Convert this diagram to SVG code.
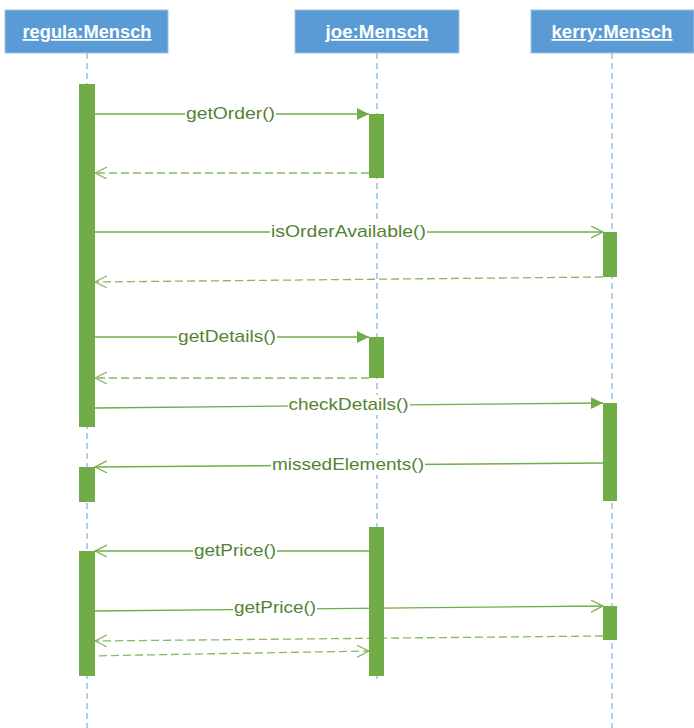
<svg xmlns="http://www.w3.org/2000/svg" width="694" height="728" viewBox="0 0 694 728">
<defs>
<style>
.head{fill:#5B9BD5;stroke:#9DC3E6;stroke-width:1}
.htxt{font-family:"Liberation Sans",Arial,sans-serif;font-weight:bold;font-size:18px;fill:#ffffff;text-decoration:underline;text-anchor:middle}
.life{stroke:#5B9BD5;stroke-width:1.2;stroke-dasharray:6,4;fill:none;opacity:0.8}
.act{fill:#70AD47}
.msg{stroke:#70AD47;stroke-width:1.3;fill:none}
.ret{stroke:#70AD47;stroke-width:1.3;fill:none;stroke-dasharray:8,4;opacity:0.85}
.lbl{font-family:"Liberation Sans",Arial,sans-serif;font-size:17px;fill:#548235;text-anchor:middle;dominant-baseline:central}
.bg{fill:#ffffff}
</style>
<marker id="filled" markerUnits="userSpaceOnUse" markerWidth="14" markerHeight="14" refX="12" refY="6" orient="auto">
<path d="M0,0 L12,6 L0,12 z" fill="#70AD47"/>
</marker>
<marker id="open" markerUnits="userSpaceOnUse" markerWidth="14" markerHeight="14" refX="12" refY="6" orient="auto">
<path d="M0,0 L12,6 L0,12" fill="none" stroke="#70AD47" stroke-width="1.2"/>
</marker>
</defs>
<rect width="694" height="728" fill="#ffffff"/>

<g id="lifelines">
<line class="life" x1="87" y1="53" x2="87" y2="728"/>
<line class="life" x1="377" y1="53" x2="377" y2="682"/>
<line class="life" x1="612" y1="53" x2="612" y2="728"/>
</g>

<g id="regula">
<rect class="head" x="5" y="10" width="163" height="43"/>
<text class="htxt" x="87" y="38" textLength="129" lengthAdjust="spacingAndGlyphs">regula:Mensch</text>
<rect class="act" x="79" y="84" width="16" height="343"/>
<rect class="act" x="79" y="467" width="16" height="35"/>
<rect class="act" x="79" y="551" width="16" height="125"/>
</g>

<g id="joe">
<rect class="head" x="295" y="10" width="164" height="43"/>
<text class="htxt" x="377" y="38" textLength="103" lengthAdjust="spacingAndGlyphs">joe:Mensch</text>
<rect class="act" x="369" y="114" width="15" height="64"/>
<rect class="act" x="369" y="337" width="15" height="41"/>
<rect class="act" x="369" y="527" width="15" height="149"/>
</g>

<g id="kerry">
<rect class="head" x="531" y="10" width="163" height="43"/>
<text class="htxt" x="612" y="38" textLength="121" lengthAdjust="spacingAndGlyphs">kerry:Mensch</text>
<rect class="act" x="603" y="232" width="14" height="45"/>
<rect class="act" x="603" y="403" width="14" height="98"/>
<rect class="act" x="603" y="606" width="14" height="34"/>
</g>

<g id="connectors">
<line class="msg" x1="95" y1="114" x2="369" y2="114" marker-end="url(#filled)"/>
<line class="ret" x1="369" y1="173" x2="95" y2="173" marker-end="url(#open)"/>
<line class="msg" x1="95" y1="232" x2="603" y2="232" marker-end="url(#open)"/>
<line class="ret" x1="603" y1="277" x2="95" y2="282" marker-end="url(#open)"/>
<line class="msg" x1="95" y1="337" x2="369" y2="337" marker-end="url(#filled)"/>
<line class="ret" x1="369" y1="378" x2="95" y2="378" marker-end="url(#open)"/>
<line class="msg" x1="95" y1="408" x2="603" y2="403" marker-end="url(#filled)"/>
<line class="msg" x1="603" y1="463" x2="95" y2="467" marker-end="url(#open)"/>
<line class="msg" x1="377" y1="551" x2="95" y2="551" marker-end="url(#open)"/>
<line class="msg" x1="95" y1="611" x2="603" y2="606" marker-end="url(#open)"/>
<line class="ret" x1="603" y1="636" x2="95" y2="641" marker-end="url(#open)"/>
<line class="ret" x1="87" y1="656" x2="369" y2="651" marker-end="url(#open)"/>

<rect class="bg" x="185" y="104" width="91" height="20"/>
<text class="lbl" x="230.5" y="113" textLength="89" lengthAdjust="spacingAndGlyphs">getOrder()</text>
<rect class="bg" x="270" y="222" width="157" height="20"/>
<text class="lbl" x="348.5" y="231" textLength="155" lengthAdjust="spacingAndGlyphs">isOrderAvailable()</text>
<rect class="bg" x="177" y="327" width="100" height="20"/>
<text class="lbl" x="227" y="336" textLength="98" lengthAdjust="spacingAndGlyphs">getDetails()</text>
<rect class="bg" x="288" y="395" width="122" height="20"/>
<text class="lbl" x="348.5" y="404" textLength="120" lengthAdjust="spacingAndGlyphs">checkDetails()</text>
<rect class="bg" x="271" y="455" width="154" height="20"/>
<text class="lbl" x="348" y="464" textLength="152" lengthAdjust="spacingAndGlyphs">missedElements()</text>
<rect class="bg" x="193" y="541" width="84" height="20"/>
<text class="lbl" x="235" y="550" textLength="82" lengthAdjust="spacingAndGlyphs">getPrice()</text>
<rect class="bg" x="233" y="598" width="84" height="20"/>
<text class="lbl" x="275" y="607" textLength="82" lengthAdjust="spacingAndGlyphs">getPrice()</text>
</g>
</svg>
